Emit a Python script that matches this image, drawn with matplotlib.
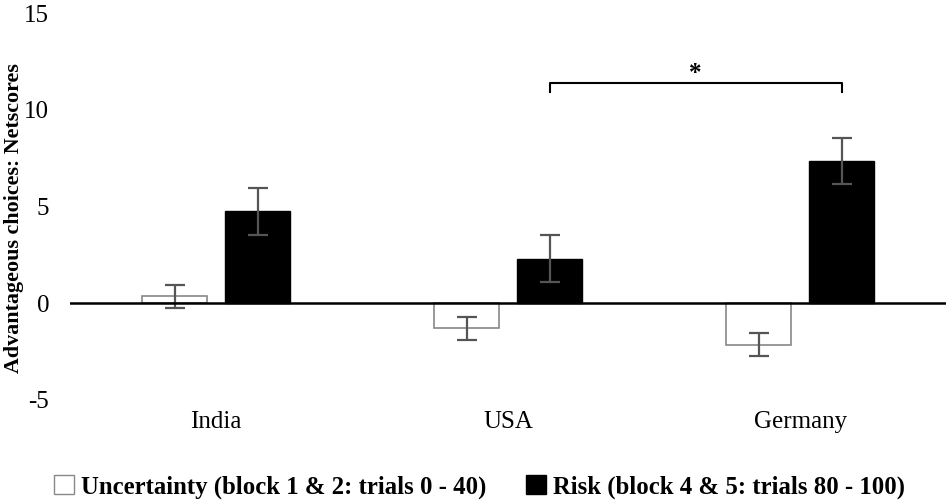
import matplotlib.pyplot as plt
import numpy as np
from matplotlib.patches import Patch

countries = ['India', 'USA', 'Germany']
uncertainty = [0.35, -1.3, -2.15]
uncertainty_err = [0.6, 0.6, 0.6]
risk = [4.75, 2.3, 7.35]
risk_err = [1.2, 1.2, 1.2]
yticks = [-5, 0, 5, 10, 15]

plt.rcParams['font.family'] = ['Liberation Serif', 'DejaVu Serif']

fig = plt.figure(figsize=(9.5, 5.03), dpi=100)
ax = fig.add_axes([0.0737, 0.205, 0.9223, 0.769])

x = np.arange(len(countries))
w = 0.223
off = 0.142
err_kw = dict(ecolor='#555555', elinewidth=1.6, capsize=7, capthick=1.6)

ax.bar(x - off, uncertainty, w, color='white', edgecolor='#888888', linewidth=1.2,
       yerr=uncertainty_err, error_kw=err_kw, zorder=2)
ax.bar(x + off, risk, w, color='black', edgecolor='black',
       yerr=risk_err, error_kw=err_kw, zorder=2)

ax.axhline(0, color='black', linewidth=1.8, zorder=3)

ax.set_xlim(-0.5, 2.5)
ax.set_ylim(-5, 15)
ax.set_yticks(yticks)
ax.set_yticklabels([str(t) for t in yticks], fontsize=18)
ax.set_xticks(x)
ax.set_xticklabels(countries, fontsize=18)
ax.tick_params(axis='both', length=0)
ax.tick_params(axis='y', pad=15)
ax.tick_params(axis='x', pad=8)
for s in ax.spines.values():
    s.set_visible(False)

ax.set_ylabel('Advantageous choices: Netscores', fontsize=15.8, fontweight='bold')
ax.yaxis.set_label_coords(-0.053, 0.47)

# significance bracket between USA risk and Germany risk
x1, x2 = 1 + off, 2 + off
ax.plot([x1, x1, x2, x2], [10.9, 11.4, 11.4, 10.9], color='black', linewidth=1.5)
ax.text((x1 + x2) / 2, 11.3, '*', ha='center', va='bottom', fontsize=18, fontweight='bold')

handles = [Patch(facecolor='white', edgecolor='#888888', label='Uncertainty (block 1 & 2: trials 0 - 40)'),
           Patch(facecolor='black', edgecolor='black', label='Risk (block 4 & 5: trials 80 - 100)')]
fig.legend(handles=handles, loc='center', bbox_to_anchor=(0.505, 0.032), ncol=2, frameon=False,
           prop={'size': 17.8, 'weight': 'bold'}, handlelength=0.8, handleheight=0.8,
           handletextpad=0.3, columnspacing=1.6)

fig.savefig('out.png', dpi=100)
